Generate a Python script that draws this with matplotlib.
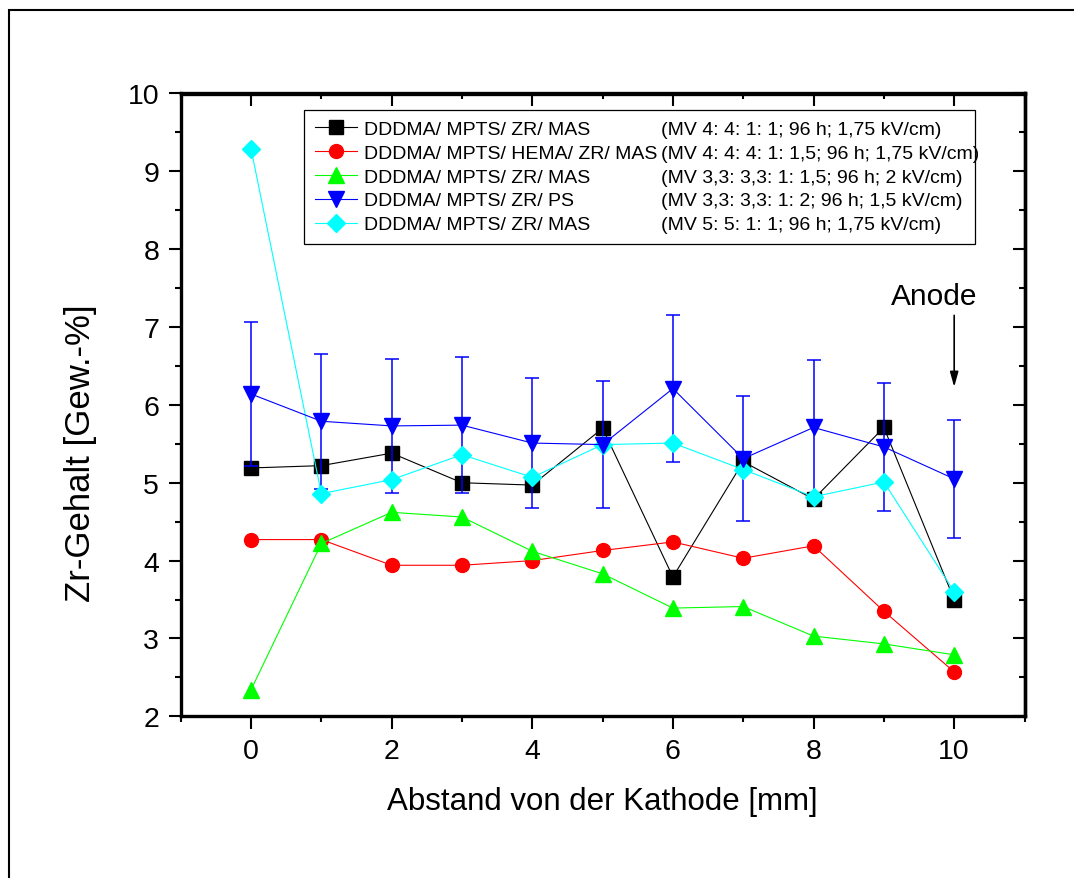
import numpy as np
import matplotlib
matplotlib.use("Agg")
import matplotlib.pyplot as plt
from matplotlib.ticker import MultipleLocator
from matplotlib.patches import Rectangle

plt.rcParams['font.family'] = ['Liberation Sans', 'DejaVu Sans']

# distance from cathode [mm]
abstand = [0, 1, 2, 3, 4, 5, 6, 7, 8, 9, 10]

# Zr content [wt.-%] per sample series
zr_mas_441 = [5.19, 5.22, 5.38, 5.00, 4.97, 5.70, 3.79, 5.27, 4.79, 5.71, 3.50]
zr_hema = [4.27, 4.27, 3.94, 3.94, 4.00, 4.13, 4.24, 4.03, 4.19, 3.35, 2.57]
zr_mas_33 = [2.34, 4.22, 4.62, 4.56, 4.12, 3.83, 3.39, 3.41, 3.03, 2.93, 2.79]
zr_ps = [6.14, 5.79, 5.73, 5.74, 5.51, 5.49, 6.21, 5.31, 5.71, 5.46, 5.05]
zr_ps_err = [0.93, 0.87, 0.86, 0.87, 0.83, 0.82, 0.94, 0.80, 0.87, 0.82, 0.76]
zr_mas_55 = [9.29, 4.86, 5.04, 5.36, 5.07, 5.49, 5.51, 5.17, 4.82, 5.01, 3.60]

namen = ["DDDMA/ MPTS/ ZR/ MAS",
         "DDDMA/ MPTS/ HEMA/ ZR/ MAS",
         "DDDMA/ MPTS/ ZR/ MAS",
         "DDDMA/ MPTS/ ZR/ PS",
         "DDDMA/ MPTS/ ZR/ MAS"]
bedingungen = ["(MV 4: 4: 1: 1; 96 h; 1,75 kV/cm)",
               "(MV 4: 4: 4: 1: 1,5; 96 h; 1,75 kV/cm)",
               "(MV 3,3: 3,3: 1: 1,5; 96 h; 2 kV/cm)",
               "(MV 3,3: 3,3: 1: 2; 96 h; 1,5 kV/cm)",
               "(MV 5: 5: 1: 1; 96 h; 1,75 kV/cm)"]

W, H = 1074, 879
fig = plt.figure(figsize=(W / 100, H / 100), dpi=100)
ax = fig.add_axes([180.7 / W, 1 - 717.3 / H, 843.8 / W, 622.8 / H])

# outer frame of the page
fig.add_artist(Rectangle((9 / W, -0.1), 1.2, 1.1 - 11 / H, transform=fig.transFigure,
                         fill=False, ec='k', lw=1.5))

h1, = ax.plot(abstand, zr_mas_441, '-s', color='k', lw=0.8, ms=9.5)
h2, = ax.plot(abstand, zr_hema, '-o', color='#ff0000', lw=0.8, ms=10)
h3, = ax.plot(abstand, zr_mas_33, '-^', color='#00ff00', lw=0.8, ms=12)
eb = ax.errorbar(abstand, zr_ps, yerr=zr_ps_err, fmt='-v', color='#0000ff', lw=0.8, ms=11.5,
                 elinewidth=1.1, capsize=4.7, capthick=1.1)
h5, = ax.plot(abstand, zr_mas_55, '-D', color='#00ffff', lw=0.8, ms=8.7)
handles = [h1, h2, h3, eb[0], h5]

ax.set_xlim(-1, 11)
ax.set_ylim(2, 10)
ax.xaxis.set_major_locator(MultipleLocator(2))
ax.xaxis.set_minor_locator(MultipleLocator(1))
ax.yaxis.set_major_locator(MultipleLocator(1))
ax.yaxis.set_minor_locator(MultipleLocator(0.5))
for s in ax.spines.values():
    s.set_linewidth(2.4)
ax.tick_params(which='both', direction='out', width=1.5, labelsize=20.5, pad=6.5)
ax.tick_params(which='major', length=9)
ax.tick_params(which='minor', length=4.5)

# mirrored ticks on top and right, pointing inwards
top = ax.secondary_xaxis('top')
top.xaxis.set_major_locator(MultipleLocator(2))
top.xaxis.set_minor_locator(MultipleLocator(1))
top.tick_params(which='both', direction='in', width=1.5, labeltop=False)
top.tick_params(which='major', length=9)
top.tick_params(which='minor', length=4.5)
right = ax.secondary_yaxis('right')
right.yaxis.set_major_locator(MultipleLocator(1))
right.yaxis.set_minor_locator(MultipleLocator(0.5))
right.tick_params(which='both', direction='in', width=1.5, labelright=False)
right.tick_params(which='major', length=9)
right.tick_params(which='minor', length=4.5)
for sa in (top, right):
    for s in sa.spines.values():
        s.set_linewidth(2.4)

ax.set_xlabel("Abstand von der Kathode [mm]", fontsize=22.5, labelpad=16)
ax.set_ylabel("Zr-Gehalt [Gew.-%]", fontsize=25)
ax.yaxis.set_label_coords(-0.0992, 0.424)

ax.text(9.72, 7.29, "Anode", fontsize=21.5, ha='center', va='baseline')
ax.annotate("", xy=(10, 6.23), xytext=(10, 7.15),
            arrowprops=dict(arrowstyle='-|>,head_width=0.25,head_length=0.9',
                            color='k', lw=1.2, shrinkA=0, shrinkB=0))

leg = ax.legend(handles, namen, loc='upper left', bbox_to_anchor=(0.1461, 0.5, 0.7952, 0.474),
                mode='expand', borderaxespad=0, fontsize=14, numpoints=1,
                handlelength=2.2, handletextpad=0.36, labelspacing=0.32,
                borderpad=0.55, fancybox=False, framealpha=1, edgecolor='k')
leg.get_frame().set_linewidth(0.9)

fig.canvas.draw()
for t, b in zip(leg.get_texts(), bedingungen):
    x0, y0 = t.get_transform().transform((0, 0))
    fig.text(661 / W, y0 / H, b, fontsize=14, ha='left', va='baseline')

fig.savefig("out.png", dpi=100)
